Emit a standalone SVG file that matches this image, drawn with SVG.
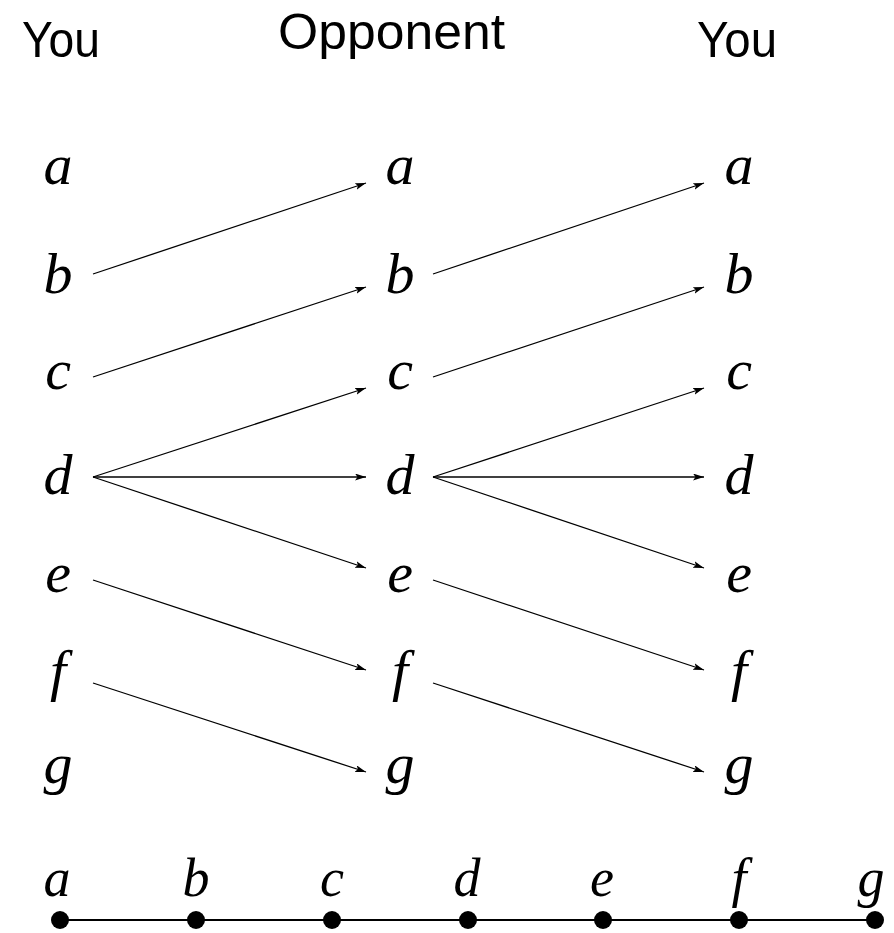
<svg xmlns="http://www.w3.org/2000/svg" width="894" height="933" viewBox="0 0 894 933">
<style>
.hd{font-family:"Liberation Sans",Arial,sans-serif;font-size:50px;fill:#000}
.m{font-family:"Liberation Serif","Times New Roman",serif;font-style:italic;font-size:58px;fill:#000;text-anchor:middle}
.mb{font-family:"Liberation Serif","Times New Roman",serif;font-style:italic;font-size:54px;fill:#000;text-anchor:middle}
.ar{stroke:#000;stroke-width:1.3;fill:none;marker-end:url(#ah)}
</style>
<defs>
<marker id="ah" markerUnits="userSpaceOnUse" markerWidth="12" markerHeight="8" refX="11" refY="3.5" orient="auto">
<path d="M0,0 L11,3.5 L0,7 L2.5,3.5 Z" fill="#000"/>
</marker>
</defs>
<rect width="894" height="933" fill="#fff"/>
<g id="headers">
<text class="hd" x="22" y="57" textLength="78" lengthAdjust="spacingAndGlyphs">You</text>
<text class="hd" x="278" y="49" textLength="227" lengthAdjust="spacingAndGlyphs">Opponent</text>
<text class="hd" x="697" y="57" textLength="80" lengthAdjust="spacingAndGlyphs">You</text>
</g>
<g id="col-you-1">
<text class="m" x="58" y="184">a</text>
<text class="m" x="58" y="293">b</text>
<text class="m" x="58" y="389">c</text>
<text class="m" x="58" y="494">d</text>
<text class="m" x="58" y="592">e</text>
<text class="m" x="58" y="690">f</text>
<text class="m" x="58" y="783">g</text>
</g>
<g id="col-opponent">
<text class="m" x="400" y="184">a</text>
<text class="m" x="400" y="293">b</text>
<text class="m" x="400" y="389">c</text>
<text class="m" x="400" y="494">d</text>
<text class="m" x="400" y="592">e</text>
<text class="m" x="400" y="690">f</text>
<text class="m" x="400" y="783">g</text>
</g>
<g id="col-you-2">
<text class="m" x="739" y="184">a</text>
<text class="m" x="739" y="293">b</text>
<text class="m" x="739" y="389">c</text>
<text class="m" x="739" y="494">d</text>
<text class="m" x="739" y="592">e</text>
<text class="m" x="739" y="690">f</text>
<text class="m" x="739" y="783">g</text>
</g>
<g id="connectors">
<line class="ar" x1="93" y1="274" x2="366" y2="183"/>
<line class="ar" x1="93" y1="377" x2="366" y2="287"/>
<line class="ar" x1="93" y1="477" x2="366" y2="388"/>
<line class="ar" x1="93" y1="477" x2="366" y2="477"/>
<line class="ar" x1="93" y1="477" x2="366" y2="568"/>
<line class="ar" x1="93" y1="580" x2="366" y2="670"/>
<line class="ar" x1="93" y1="683" x2="366" y2="772"/>
<line class="ar" x1="433" y1="274" x2="704" y2="183"/>
<line class="ar" x1="433" y1="377" x2="704" y2="287"/>
<line class="ar" x1="433" y1="477" x2="704" y2="388"/>
<line class="ar" x1="433" y1="477" x2="704" y2="477"/>
<line class="ar" x1="433" y1="477" x2="704" y2="568"/>
<line class="ar" x1="433" y1="580" x2="704" y2="670"/>
<line class="ar" x1="433" y1="683" x2="704" y2="772"/>
</g>
<g id="number-line">
<line x1="60" y1="920" x2="875" y2="920" stroke="#000" stroke-width="2"/>
<g fill="#000">
<circle cx="60" cy="920" r="9"/>
<circle cx="196" cy="920" r="9"/>
<circle cx="332" cy="920" r="9"/>
<circle cx="468" cy="920" r="9"/>
<circle cx="603" cy="920" r="9"/>
<circle cx="739" cy="920" r="9"/>
<circle cx="875" cy="920" r="9"/>
</g>
<text class="mb" x="57" y="896">a</text>
<text class="mb" x="196" y="896">b</text>
<text class="mb" x="332" y="896">c</text>
<text class="mb" x="467" y="896">d</text>
<text class="mb" x="602" y="896">e</text>
<text class="mb" x="739" y="896">f</text>
<text class="mb" x="871" y="896">g</text>
</g>
</svg>
